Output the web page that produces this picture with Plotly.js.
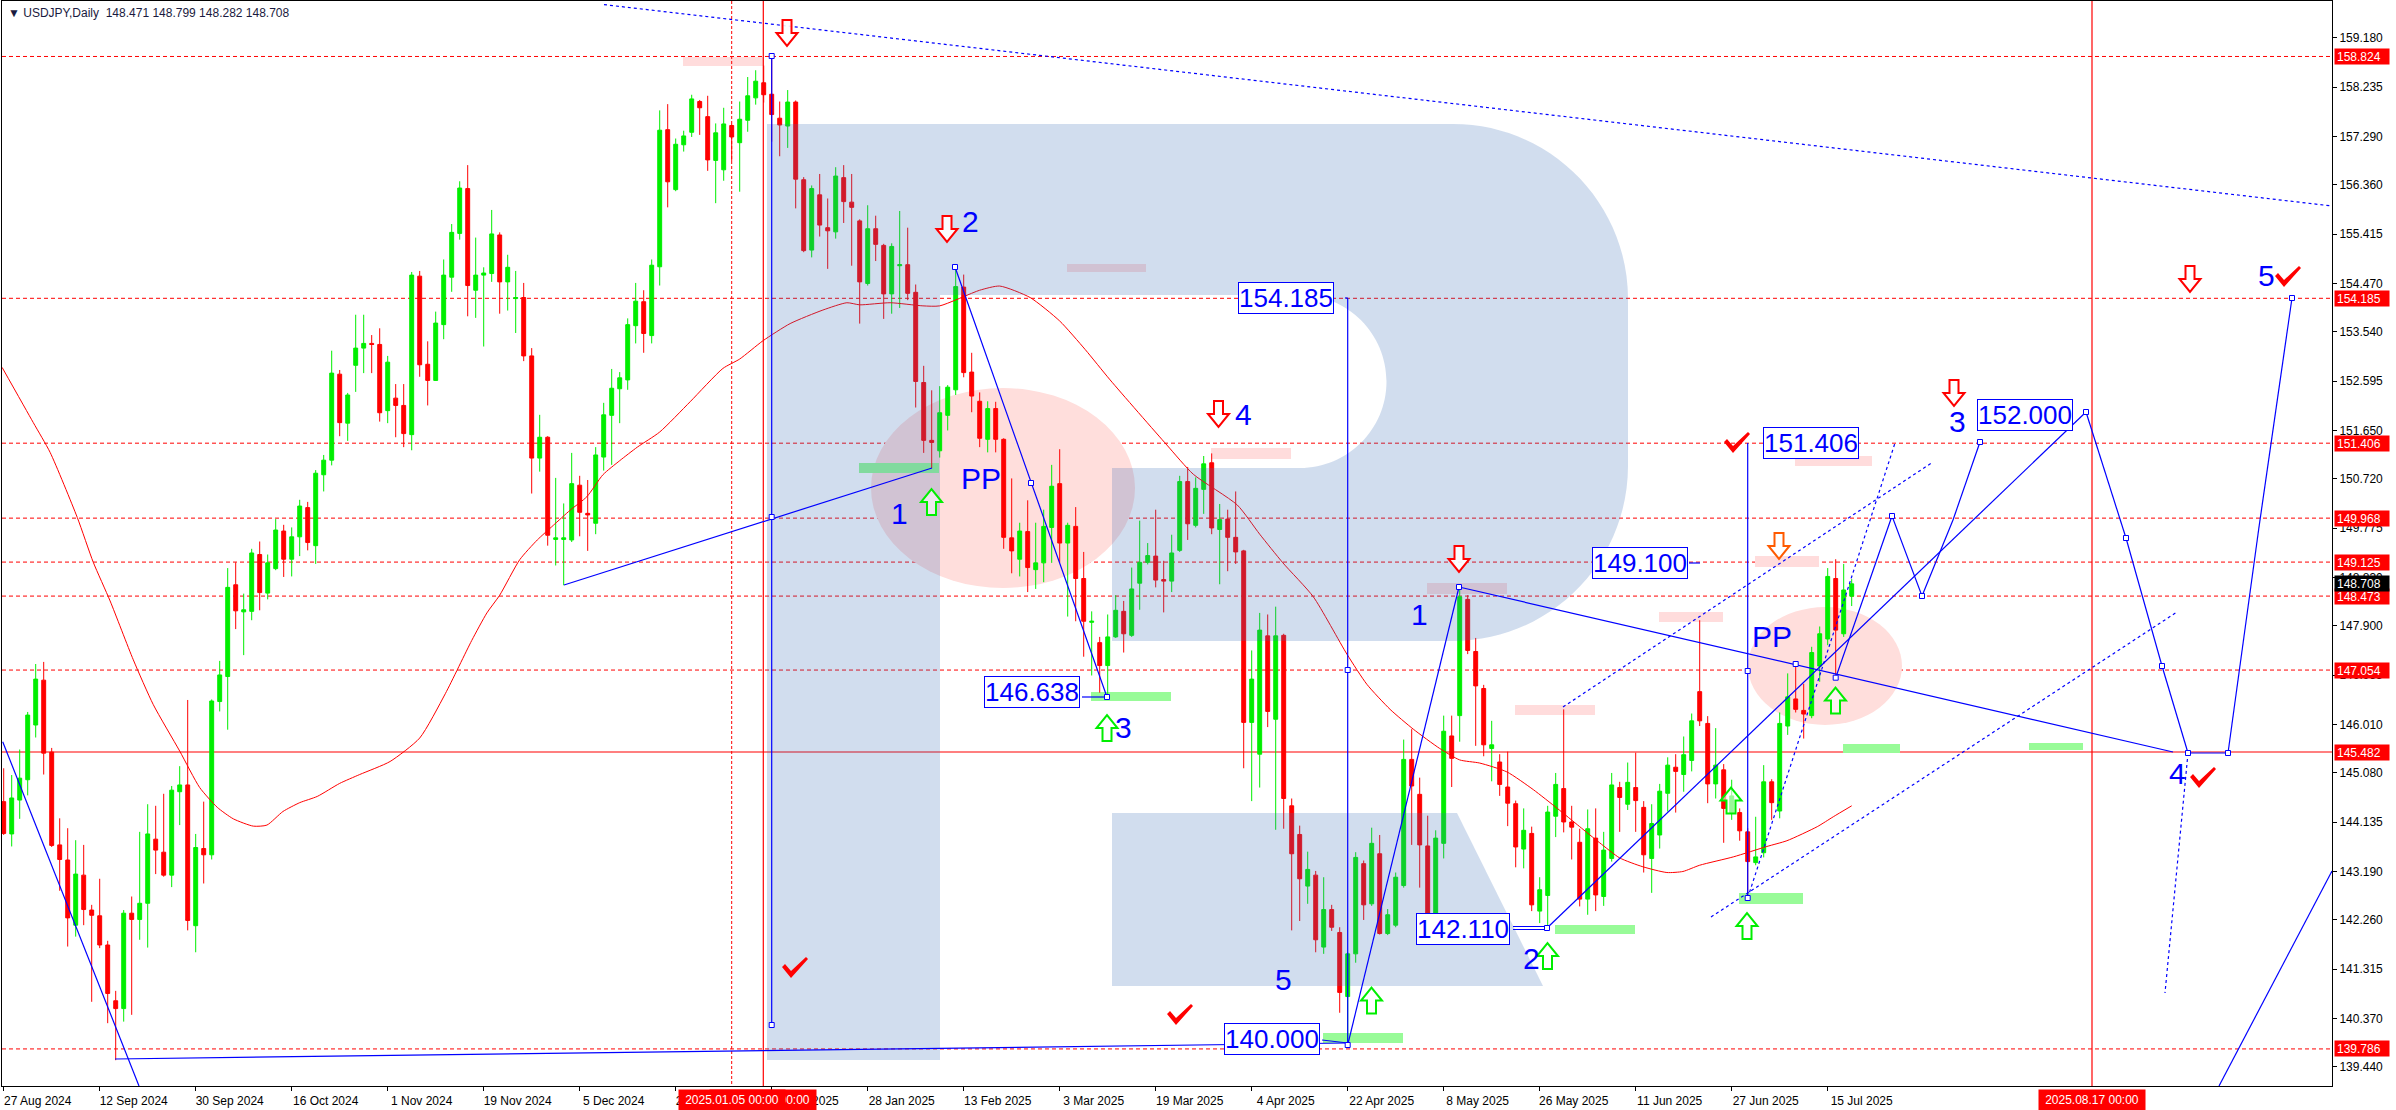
<!DOCTYPE html>
<html>
<head>
<meta charset="utf-8">
<script src="https://cdn.plot.ly/plotly-3.0.1.min.js"></script>
<style>
html,body{margin:0;padding:0;background:#ffffff;overflow:hidden;}
#chart{width:2396px;height:1110px;}
</style>
</head>
<body>
<div id="chart"></div>
<script>
// ================= DATA =================
const symbolTitle = 'USDJPY,Daily';
const lastBar = {open: 148.471, high: 148.799, low: 148.282, close: 148.708};

// daily bars, 27 Aug 2024 (index 0) ... 18 Jul 2025 (index 231)
const open = [
144.53,143.91,144.56,144.95,146.00,146.86,145.48,143.70,143.41,142.16,
143.12,142.45,142.34,141.78,140.71,140.56,142.39,142.27,142.58,143.81,
143.56,143.12,144.72,144.85,142.15,143.63,143.51,146.45,146.93,148.69,
148.17,148.18,149.27,148.53,149.00,149.72,149.18,149.61,150.17,149.44,
150.80,151.08,152.73,151.79,152.90,153.23,153.32,153.30,152.03,152.27,
152.13,151.57,154.61,152.92,152.61,153.68,154.59,155.43,156.29,154.34,
154.63,154.66,155.40,154.50,154.18,154.20,153.08,151.12,151.52,149.56,
149.56,149.55,150.60,150.06,149.87,151.14,151.94,152.45,152.62,153.66,
154.12,153.47,154.79,157.42,156.27,157.13,157.37,157.96,157.67,156.83,
156.65,157.50,157.17,157.60,158.03,158.32,158.10,157.64,157.49,157.95,
156.46,155.11,156.17,155.54,155.46,156.50,156.03,155.67,154.47,155.52,
155.20,154.27,154.81,154.83,154.30,152.57,151.46,151.26,151.94,152.43,
154.40,152.77,152.21,151.48,152.07,151.48,149.59,149.18,149.71,148.98,
149.11,149.79,150.63,149.49,149.81,148.81,147.97,147.58,147.14,147.69,
148.18,147.72,148.72,149.12,149.24,148.79,148.76,149.35,150.67,149.83,
150.52,151.03,149.75,149.95,149.60,149.34,146.05,145.44,147.71,146.11,
147.72,144.45,143.90,142.91,143.12,141.74,142.46,142.02,140.79,141.61,
143.34,142.57,143.53,142.00,142.16,142.92,145.34,144.67,143.68,142.36,
143.73,145.79,146.18,148.41,147.41,146.70,145.55,145.29,144.81,144.49,
143.62,143.92,142.43,142.73,144.25,144.78,144.14,143.75,142.66,143.83,
142.71,143.44,144.80,144.48,144.80,144.42,143.44,143.89,144.69,145.19,
145.05,145.32,146.64,146.03,144.87,145.14,144.31,144.32,143.95,143.36,
143.55,144.91,144.35,145.98,146.50,146.28,146.18,147.13,147.65,148.81,
147.75,lastBar.open];
const high = [
145.17,145.04,145.53,146.25,147.17,147.21,145.56,144.21,144.02,143.79,
143.70,142.55,143.05,141.86,140.90,142.45,142.71,143.95,144.48,144.45,
144.68,144.83,145.21,146.48,143.91,144.53,146.49,147.23,149.01,149.12,
148.52,149.38,149.52,149.27,149.95,149.84,149.79,150.32,150.28,150.89,
151.18,153.18,152.81,152.37,153.87,153.87,153.48,153.61,153.08,152.54,
152.54,154.69,154.71,153.36,153.93,154.93,155.61,156.43,156.74,155.35,
154.78,155.88,155.45,155.02,154.71,154.48,153.23,151.95,151.54,150.74,
150.25,151.22,150.78,150.70,151.33,152.18,152.83,152.77,153.80,154.48,
154.34,154.93,157.79,157.91,157.25,157.40,158.09,157.99,158.07,157.54,
157.84,157.53,157.96,158.43,158.56,158.65,158.87,157.96,158.18,157.98,
156.51,156.35,156.57,156.10,156.70,156.74,156.57,155.70,155.97,155.77,
155.23,155.24,155.86,155.54,154.45,152.89,152.42,152.50,152.52,154.79,
154.64,153.14,152.38,152.21,152.20,151.50,150.73,149.88,150.31,149.88,
150.13,150.99,151.29,149.88,150.18,149.32,148.18,147.69,148.12,148.49,
148.38,149.02,149.92,149.49,150.13,149.15,149.65,150.78,150.95,150.75,
151.16,151.21,150.24,150.13,150.48,149.36,147.43,148.15,148.12,148.27,
147.75,144.59,144.07,143.57,143.20,143.08,142.55,142.12,141.64,143.56,
143.40,144.03,143.89,142.47,143.17,145.72,145.92,144.99,144.26,143.98,
146.18,146.18,148.63,148.49,147.67,146.77,146.08,145.44,145.49,144.55,
144.40,144.05,143.08,144.45,145.08,146.30,144.45,144.01,144.38,144.40,
143.95,145.08,144.91,145.28,145.47,144.54,144.48,144.87,145.38,145.44,
145.78,146.22,148.01,146.17,145.94,145.25,144.95,144.40,144.02,144.24,
145.23,144.96,146.24,146.99,147.22,146.79,147.50,147.89,149.01,149.18,
149.09,lastBar.high];
const low = [
143.89,143.67,144.20,144.65,145.76,145.05,143.66,142.82,141.75,141.94,
142.16,140.69,141.72,140.28,139.57,140.31,140.44,141.88,141.73,143.14,
143.09,142.89,144.08,142.06,141.64,142.96,143.42,146.26,145.91,147.84,
147.34,148.01,148.20,148.41,148.97,148.84,148.85,149.24,149.35,149.09,
150.48,150.98,151.54,151.45,152.39,152.75,152.75,151.82,151.79,151.52,
151.33,151.27,152.68,152.13,152.60,153.40,154.31,155.31,153.84,153.81,
153.26,154.50,153.89,153.95,153.52,152.98,150.44,150.86,149.44,149.06,
148.68,149.51,149.62,149.34,149.66,150.88,150.99,151.79,152.43,153.32,
153.14,153.32,154.43,155.93,156.24,157.00,157.28,157.32,156.63,156.01,
156.44,156.82,156.23,157.38,157.90,157.94,157.19,156.91,157.07,155.91,
155.07,154.97,155.37,154.75,155.33,155.63,154.81,153.70,154.43,154.90,
153.79,153.89,154.00,154.15,152.09,151.22,150.93,151.13,151.65,152.33,
152.67,152.00,151.33,151.23,151.23,149.38,148.91,148.85,148.55,148.61,
148.74,149.11,149.11,148.08,147.99,147.31,146.95,146.62,146.54,147.67,
147.39,147.69,148.21,149.08,148.64,148.16,148.55,149.32,149.55,149.79,
150.05,149.66,148.70,148.95,149.09,145.17,144.54,144.80,145.96,143.99,
144.01,142.06,142.24,142.57,141.64,141.61,142.05,140.48,139.87,141.44,
142.26,142.53,141.98,141.97,142.12,142.88,143.70,142.88,142.34,142.33,
143.44,144.81,145.68,147.36,145.60,145.40,144.92,144.64,144.06,143.27,
143.25,142.43,142.20,142.11,143.85,143.94,143.42,142.52,142.36,142.43,
142.53,143.38,143.95,144.37,143.95,143.17,142.78,143.63,144.34,144.32,
144.72,145.11,145.98,144.50,144.59,143.74,144.18,143.78,142.68,143.31,
143.46,144.18,144.21,145.81,146.24,145.74,146.13,146.83,147.53,146.93,
147.69,lastBar.low];
const close = [
143.92,144.60,144.98,146.19,146.88,145.46,143.69,143.42,142.30,143.14,
142.46,142.35,141.78,140.85,140.56,142.39,142.27,142.58,143.91,143.60,
143.12,144.75,144.85,142.25,143.65,143.51,146.46,146.96,148.64,148.19,
148.21,149.30,148.54,149.11,149.74,149.18,149.61,150.20,149.50,150.83,
151.08,152.75,151.80,152.33,153.23,153.32,153.30,151.99,152.96,152.13,
151.59,154.63,152.91,152.61,153.71,154.63,155.45,156.30,154.43,154.63,
154.67,155.42,154.50,154.78,154.20,153.08,151.12,151.52,149.64,149.59,
149.59,150.63,150.08,150.03,151.18,151.95,152.46,152.66,153.68,154.13,
153.51,154.82,157.41,156.42,157.14,157.30,158.01,157.84,156.84,157.36,
157.53,157.28,157.62,158.07,158.35,158.09,157.71,157.51,157.95,156.47,
155.10,156.29,155.59,155.48,156.53,156.04,155.93,154.50,155.52,155.22,
154.27,155.18,154.83,154.28,152.59,151.46,151.42,151.99,152.48,154.41,
152.76,152.31,151.50,152.07,151.48,149.60,149.34,149.72,149.02,149.11,
149.81,150.58,149.49,149.83,148.81,147.99,147.99,147.14,147.69,148.20,
147.75,148.61,149.12,149.25,148.78,148.76,149.30,150.67,149.86,150.54,
151.01,149.78,149.94,149.60,149.32,146.05,146.88,147.82,146.26,147.71,
144.59,143.53,143.05,143.23,141.88,142.46,142.12,140.87,141.61,143.46,
142.55,143.73,142.00,142.36,143.08,145.34,144.83,143.70,142.39,143.83,
145.88,145.36,148.46,147.43,146.75,145.62,145.62,144.86,144.50,143.66,
143.98,142.55,142.84,144.33,144.86,144.14,144.04,142.66,144.01,142.74,
143.60,144.85,144.61,144.90,144.55,143.51,144.11,144.73,145.23,145.11,
145.43,146.08,146.08,144.87,145.23,144.40,144.64,143.97,143.38,143.47,
144.91,144.51,146.03,146.54,146.30,146.21,147.39,147.75,148.85,147.82,
148.59,lastBar.close];

// moving average : bar position -> value
const maIndex = [-0.2,3.7,5.8,9.2,11.2,13.3,16.2,18.7,22,24.5,26.7,28.7,31.2,32.9,34.9,37,39.2,42,44.5,48.3,52,55.2,58.5,60.4,62,64.5,66.7,68.7,70.8,72.9,74.9,77,79.2,82,85.8,89.9,92,94.9,98.3,102.4,105.4,107,110.8,114.9,117,122,124.5,128.3,132,135.2,138.3,145.4,148.7,154.2,157,159.9,163.7,167.9,170.4,173.3,176.2,179.5,182,184.5,187.9,191.2,194.2,197,199.5,202,204.9,207.9,209.9,212,216.2,220.4,222.9,226.7,228.7,231];
const maValue = [152.86,151.80,151.23,149.98,149.12,148.38,147.25,146.39,145.50,144.80,144.42,144.20,144.06,144.08,144.34,144.51,144.63,144.88,145.05,145.30,145.75,146.60,147.62,148.15,148.49,149.17,149.55,149.83,150.12,150.38,150.80,151.07,151.33,151.62,152.20,152.84,153.02,153.37,153.70,153.96,154.10,154.06,154.10,154.04,154.04,154.34,154.42,154.20,153.75,153.20,152.62,151.37,150.81,150.22,149.66,149.11,148.46,147.36,146.78,146.30,145.92,145.55,145.33,145.27,145.10,144.76,144.40,144.05,143.74,143.45,143.28,143.17,143.19,143.31,143.47,143.67,143.78,144.05,144.24,144.45];

// axis ticks
const xTickIndex = [0,12,24,36,48,60,72,84,96,108,120,132,144,156,168,180,192,204,216,228];
const xTickLabels = ['27 Aug 2024','12 Sep 2024','30 Sep 2024','16 Oct 2024','1 Nov 2024','19 Nov 2024','5 Dec 2024','23 Dec 2024','10 Jan 2025','28 Jan 2025','13 Feb 2025','3 Mar 2025','19 Mar 2025','4 Apr 2025','22 Apr 2025','8 May 2025','26 May 2025','11 Jun 2025','27 Jun 2025','15 Jul 2025'];
const yTickVals = [159.180,158.235,157.290,156.360,155.415,154.470,153.540,152.595,151.650,150.720,149.775,148.830,147.900,146.955,146.010,145.080,144.135,143.190,142.260,141.315,140.370,139.440];

// horizontal levels
const dashedLevels = [158.824,154.185,151.406,149.968,149.125,148.473,147.054,139.786];
const solidLevel = 145.482;

// text labels on the chart
const waveLabels = ['2','1','PP','3','4','5','1','2','PP','3','4','5'];
const boxLabels = ['154.185','146.638','140.000','142.110','149.100','151.406','152.000'];

// ================= DRAWING =================
const barIndex = open.map((_, i) => i);
const F = '"Liberation Sans", Arial, sans-serif';
const BLUE = '#0000ff', RED = '#ff0000', GREEN = '#00ee00';

// frame helpers: screen pixel -> axis value (bar i sits at 3.7 + 8 i px, 52.13 px per yen)
const X = p => (p - 3.7) / 8;
const Y = p => 145.482 + (752 - p) / 52.13;
const pt = (x, y) => X(x) + ',' + Y(y);

const shapes = [];
const annotations = [];

function segment(x0, y0, x1, y1, color, width, dash, layer) {
  shapes.push({type: 'line', xref: 'x', yref: 'y', x0: X(x0), y0: Y(y0), x1: X(x1), y1: Y(y1),
    line: {color: color, width: width, dash: dash || 'solid'}, layer: layer || 'above'});
}
function box(x0, y0, x1, y1, fill, layer) {
  shapes.push({type: 'rect', xref: 'x', yref: 'y', x0: X(x0), y0: Y(y0), x1: X(x1), y1: Y(y1),
    fillcolor: fill, line: {width: 0}, layer: layer || 'below'});
}
function poly(points, fill, lineColor, lineWidth, layer) {
  shapes.push({type: 'path', xref: 'x', yref: 'y',
    path: 'M' + points.map(p => pt(p[0], p[1])).join('L') + 'Z',
    fillcolor: fill, line: {color: lineColor || 'rgba(0,0,0,0)', width: lineWidth || 0}, layer: layer || 'above'});
}

// --- level lines (below candles)
dashedLevels.forEach(v => shapes.push({type: 'line', xref: 'paper', yref: 'y', x0: 0, x1: 1, y0: v, y1: v,
  line: {color: RED, width: 1, dash: '4px,3px'}, layer: 'below'}));
shapes.push({type: 'line', xref: 'paper', yref: 'y', x0: 0, x1: 1, y0: solidLevel, y1: solidLevel,
  line: {color: RED, width: 1.2}, layer: 'below'});

// --- pink pivot ellipses
[[871, 388, 1135, 588], [1748, 607, 1902, 725]].forEach(e => shapes.push({type: 'circle', xref: 'x', yref: 'y',
  x0: X(e[0]), y0: Y(e[1]), x1: X(e[2]), y1: Y(e[3]), fillcolor: '#ffdedc', line: {width: 0}, layer: 'below'}));

// --- zone bars
[[683,57,763,66],[1067,264,1146,272],[1211,448,1291,459],[1427,583,1507,594],[1515,705,1595,715],
 [1659,612,1723,622],[1755,556,1819,567],[1795,456,1872,466]].forEach(r => box(r[0], r[1], r[2], r[3], '#ffdcdc'));
[[859,463,939,473],[1091,692,1171,701],[1323,1033,1403,1043],[1555,925,1635,934],[1739,893,1803,904],
 [1843,744,1900,753],[2029,743,2083,750]].forEach(r => box(r[0], r[1], r[2], r[3], '#98fb98'));

// --- watermark "R"
const k1 = 0.5523 * 175, k2 = 0.5523 * 86.5, hc = 1300;
shapes.push({type: 'path', xref: 'x', yref: 'y', layer: 'above', fillcolor: 'rgba(55,110,180,0.23)', line: {width: 0},
  path: 'M' + pt(767,124) + 'L' + pt(1453,124) +
    'C' + pt(1453 + k1,124) + ' ' + pt(1628,299 - k1) + ' ' + pt(1628,299) +
    'L' + pt(1628,466) +
    'C' + pt(1628,466 + k1) + ' ' + pt(1453 + k1,641) + ' ' + pt(1453,641) +
    'L' + pt(1112,641) + 'L' + pt(1112,468) + 'L' + pt(hc,468) +
    'C' + pt(hc + k2,468) + ' ' + pt(hc + 86.5,381.5 + k2) + ' ' + pt(hc + 86.5,381.5) +
    'C' + pt(hc + 86.5,381.5 - k2) + ' ' + pt(hc + k2,295) + ' ' + pt(hc,295) +
    'L' + pt(940,295) + 'L' + pt(940,1060) + 'L' + pt(767,1060) + 'Z'});
poly([[1112,813],[1457,813],[1543,986],[1112,986]], 'rgba(55,110,180,0.23)');

// --- vertical time lines
segment(731.7, 1, 731.7, 1086, RED, 1, '3px,2px');
segment(763.3, 1, 763.3, 1086, RED, 1.2);
segment(2092, 1, 2092, 1086, RED, 1.2);

// --- blue wave construction lines
[[2.7,741.7,139,1086],[115,1059,1347.7,1043],[564,585,932,468],[771.7,56,771.7,1025],
 [955,267,1107,697],[1082,697,1107,697],[1345,298,1347.7,298],[1347.7,298,1347.7,1045],
 [1322,1040,1347.7,1043],[1347.7,1045,1459,587],[1459,587,2173,752],[1513,926.5,1547,926.5],
 [1513,929.5,1547,929.5],[1547,928,2086,412],[1689,563,1700,563],[1747.7,443,1747.7,898],
 [2219,1086,2332,871],
 [1835.7,677.7,1892,516],[1892,516,1922,596],[1922,596,1953,520],[1953,520,1980,442],
 [2086,412,2126,538],[2126,538,2162,666],[2162,666,2188,753],[2188,753,2228,753],
 [2228,753,2259,527],[2259,527,2292,298]
].forEach(s => segment(s[0], s[1], s[2], s[3], BLUE, 1.2));
[[604,4.6,2332,206],[1563,707,1933,462],[1711,917,2177,612],[1747.7,898,1895,443],[2188,753,2165,993]
].forEach(s => segment(s[0], s[1], s[2], s[3], BLUE, 1.2, '3px,3px'));

// --- small anchor squares
[[771.7,56],[771.7,517],[771.7,1025],[955,267],[1031,483],[1107,697],[1347.7,670],[1347.7,1045],
 [1459,587],[1547,928],[1747.7,671],[1747.7,898],[1795.7,664],[1835.7,677.7],[1892,516],[1922,596],
 [1980,442],[2086,412],[2126,538],[2162,666],[2188,753],[2228,753],[2292,298]
].forEach(s => poly([[s[0]-2.5,s[1]-2.5],[s[0]+2.5,s[1]-2.5],[s[0]+2.5,s[1]+2.5],[s[0]-2.5,s[1]+2.5]], '#ffffff', BLUE, 1));

// --- hollow arrows
const downArrow = [[-4.5,-13],[4.5,-13],[4.5,0],[10.5,0],[0,13],[-10.5,0],[-4.5,0]];
[[787,33,RED],[947,229,RED],[1218.5,414,RED],[1459,559,RED],[1779,546,'#ff5a00'],[1954,393,RED],[2190,279,RED]
].forEach(a => poly(downArrow.map(p => [a[0] + p[0], a[1] + p[1]]), 'rgba(255,255,255,0.9)', a[2], 2));
[[931.5,502],[1107,728],[1371.5,1000.5],[1547.5,956],[1731,800.5],[1747,926],[1835.5,700.5]
].forEach(a => poly(downArrow.map(p => [a[0] + p[0], a[1] - p[1]]), 'rgba(255,255,255,0.6)', GREEN, 2));

// --- check marks
const tick = [[-13,-1],[-10,-4],[-4,3],[11,-11],[13,-9],[-4,10]];
[[795,968],[1180,1015],[1737,443],[2203,778],[2288,277]
].forEach(c => poly(tick.map(p => [c[0] + p[0], c[1] + p[1]]), RED));

// --- annotations: header
annotations.push({xref: 'paper', yref: 'paper', x: 0, y: 1, xanchor: 'left', yanchor: 'top', xshift: 4, yshift: -3,
  showarrow: false, align: 'left', font: {family: F, size: 12, color: '#1a1a40'},
  text: '\u25BC ' + symbolTitle + '  ' + [lastBar.open, lastBar.high, lastBar.low, lastBar.close].map(v => v.toFixed(3)).join(' ')});

// wave labels
const wavePos = [[970,221],[899,513],[981,478],[1123,727],[1243,414],[1283,979],[1419,614],[1531,958],[1772,636],[1957,421],[2177,773],[2266,275]];
waveLabels.forEach((t, i) => annotations.push({x: X(wavePos[i][0]), y: Y(wavePos[i][1]), showarrow: false,
  text: t, font: {family: F, size: 30, color: BLUE}}));

// boxed price labels
const boxPos = [[1286,298],[1032,692],[1272,1038.5],[1463,928.5],[1640,563],[1811,443],[2025,415]];
boxLabels.forEach((t, i) => annotations.push({x: X(boxPos[i][0]), y: Y(boxPos[i][1]), showarrow: false,
  text: t, font: {family: F, size: 26, color: BLUE}, bgcolor: '#ffffff', bordercolor: BLUE, borderwidth: 1, borderpad: 0}));

// price-axis level boxes
dashedLevels.concat([solidLevel]).forEach(v => annotations.push({xref: 'paper', yref: 'y', x: 1, y: v, xanchor: 'left',
  xshift: 2, showarrow: false, text: v.toFixed(3), bgcolor: RED, font: {family: F, size: 12, color: '#ffffff'},
  width: 50, height: 11, align: 'left', borderpad: 2}));
annotations.push({xref: 'paper', yref: 'y', x: 1, y: lastBar.close, xanchor: 'left', xshift: 2, showarrow: false,
  text: lastBar.close.toFixed(3), bgcolor: '#000000', font: {family: F, size: 12, color: '#ffffff'},
  width: 50, height: 11, align: 'left', borderpad: 2});

// time-axis boxes
[['2025.01.09 00:00', 763.3], ['2025.01.05 00:00', 731.7], ['2025.08.17 00:00', 2092]].forEach(d =>
  annotations.push({xref: 'x', yref: 'paper', x: X(d[1]), y: 0, yanchor: 'top', yshift: -3, showarrow: false,
    text: d[0], bgcolor: RED, font: {family: F, size: 12, color: '#ffffff'}, borderpad: 3, width: 100}));

const traces = [
  {type: 'candlestick', x: barIndex, open: open, high: high, low: low, close: close,
   increasing: {line: {color: GREEN, width: 1}, fillcolor: GREEN},
   decreasing: {line: {color: RED, width: 1}, fillcolor: RED},
   whiskerwidth: 0, hoverinfo: 'skip', showlegend: false},
  {type: 'scatter', mode: 'lines', x: maIndex, y: maValue, line: {color: RED, width: 1, shape: 'spline', smoothing: 0.6},
   hoverinfo: 'skip', showlegend: false}
];

const layout = {
  width: 2396, height: 1110, autosize: false,
  margin: {l: 2, r: 64, t: 1, b: 24, pad: 0},
  paper_bgcolor: '#ffffff', plot_bgcolor: '#ffffff', showlegend: false,
  xaxis: {range: [X(2), X(2332)], tickmode: 'array', tickvals: xTickIndex, ticktext: xTickLabels, tickangle: 0,
    ticks: 'outside', ticklen: 4, tickcolor: '#000', ticklabelshift: 34, showline: true, linecolor: '#000', linewidth: 1,
    mirror: true, showgrid: false, zeroline: false, rangeslider: {visible: false}, fixedrange: true,
    tickfont: {family: F, size: 12, color: '#000'}},
  yaxis: {range: [Y(1086), Y(1)], side: 'right', tickmode: 'array', tickvals: yTickVals,
    ticktext: yTickVals.map(v => v.toFixed(3)), ticks: 'outside', ticklen: 4, tickcolor: '#000',
    showline: true, linecolor: '#000', linewidth: 1, mirror: true, showgrid: false, zeroline: false, fixedrange: true,
    tickfont: {family: F, size: 12, color: '#000'}},
  shapes: shapes,
  annotations: annotations
};

Plotly.newPlot('chart', traces, layout, {staticPlot: true, displayModeBar: false});
</script>
</body>
</html>
